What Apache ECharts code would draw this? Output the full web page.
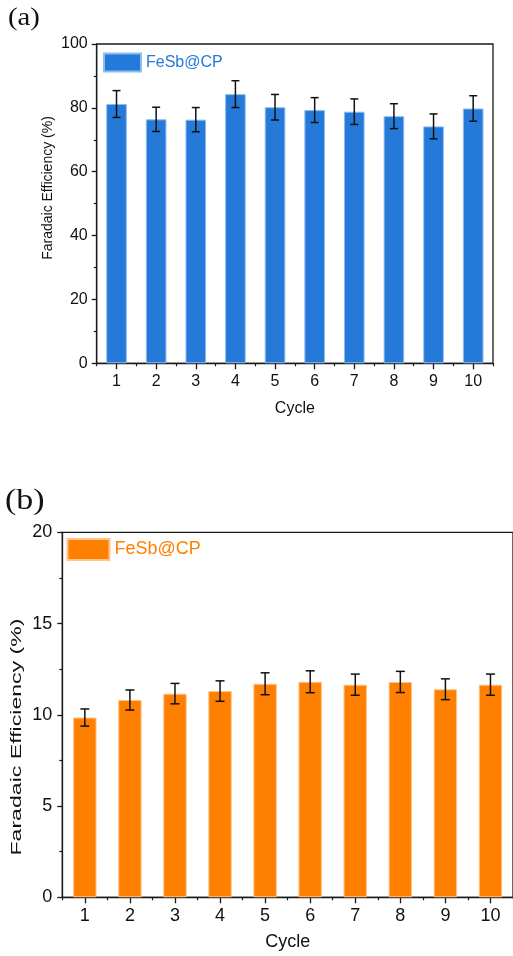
<!DOCTYPE html>
<html>
<head>
<meta charset="utf-8">
<script src="https://cdn.jsdelivr.net/npm/echarts@6/dist/echarts.min.js"></script>
<style>
html,body{margin:0;padding:0;background:#fff;}
#chart{width:513px;height:956px;}
</style>
</head>
<body>
<div id="chart"></div>
<script>
const cycles = ['1','2','3','4','5','6','7','8','9','10'];
const feA = [81.2, 76.4, 76.3, 84.3, 80.2, 79.3, 78.8, 77.4, 74.2, 79.8];
const errA = [4.2, 3.8, 3.8, 4.2, 4.0, 3.9, 4.0, 3.9, 3.9, 4.0];
const feB = [9.85, 10.81, 11.16, 11.3, 11.7, 11.81, 11.65, 11.8, 11.4, 11.65];
const errB = [0.47, 0.55, 0.56, 0.56, 0.6, 0.6, 0.58, 0.58, 0.57, 0.58];
const yTicksA = [0, 20, 40, 60, 80, 100];
const yTicksB = [0, 5, 10, 15, 20];
const seriesLabel = 'FeSb@CP';
const yName = 'Faradaic Efficiency (%)';
const xName = 'Cycle';

const FONT = '"Liberation Sans", Arial, sans-serif';
const SERIF = '"Liberation Serif", "Times New Roman", serif';
const BLUE = '#2479d9';
const ORANGE = '#ff8000';
const AX = '#1a1a1a';

function errData(v, e) { return v.map((d, i) => [i, d - e[i], d + e[i]]); }

function errRender(cap) {
  return function (params, api) {
    const x = api.value(0);
    const lo = api.coord([x, api.value(1)]);
    const hi = api.coord([x, api.value(2)]);
    const st = { stroke: '#111', lineWidth: 1.5 };
    return {
      type: 'group',
      children: [
        { type: 'line', shape: { x1: lo[0], y1: lo[1], x2: hi[0], y2: hi[1] }, style: st },
        { type: 'line', shape: { x1: hi[0] - cap, y1: hi[1], x2: hi[0] + cap, y2: hi[1] }, style: st },
        { type: 'line', shape: { x1: lo[0] - cap, y1: lo[1], x2: lo[0] + cap, y2: lo[1] }, style: st }
      ]
    };
  };
}

function yAxisCfg(grid, max, interval, fs, margin) {
  return {
    type: 'value', gridIndex: grid, min: 0, max: max, interval: interval,
    axisLine: { show: true, lineStyle: { color: AX, width: 1.3 } },
    axisTick: { show: true, length: 5, lineStyle: { color: AX, width: 1.3 } },
    minorTick: { show: true, splitNumber: 2, length: 3, lineStyle: { color: AX, width: 1.2 } },
    splitLine: { show: false },
    axisLabel: { color: '#111', fontFamily: FONT, fontSize: fs, margin: margin }
  };
}

function xAxisMain(grid, fs, margin, nfs, ngap) {
  return {
    type: 'category', gridIndex: grid, data: cycles, boundaryGap: true,
    axisLine: { show: true, lineStyle: { color: AX, width: 1.3 } },
    axisTick: { show: true, alignWithLabel: true, length: 6, lineStyle: { color: AX, width: 1.3 } },
    axisLabel: { color: '#111', fontFamily: FONT, fontSize: fs, margin: margin },
    name: xName, nameLocation: 'middle', nameGap: ngap,
    nameTextStyle: { color: '#111', fontFamily: FONT, fontSize: nfs }
  };
}

function xAxisMinor(grid) {
  return {
    type: 'category', gridIndex: grid, data: cycles, boundaryGap: true, position: 'bottom',
    axisLine: { show: false },
    axisTick: { show: true, alignWithLabel: false, length: 3, lineStyle: { color: AX, width: 1.2 } },
    axisLabel: { show: false }
  };
}

const chart = echarts.init(document.getElementById('chart'), null, { renderer: 'canvas' });
chart.setOption({
  animation: false,
  backgroundColor: '#fff',
  grid: [
    { left: 96.7, top: 44, width: 396.3, height: 319.3, show: true, borderColor: AX, borderWidth: 1.3, backgroundColor: 'transparent' },
    { left: 62.3, top: 532.3, width: 453, height: 365, show: true, borderColor: AX, borderWidth: 1.3, backgroundColor: 'transparent' }
  ],
  legend: [
    { data: [seriesLabel + ' (a)'], formatter: () => seriesLabel, left: 103, top: 52.5, itemWidth: 37, itemHeight: 18, itemGap: 5,
      icon: 'rect', textStyle: { color: BLUE, fontFamily: FONT, fontSize: 16 }, padding: 0, selectedMode: false },
    { data: [seriesLabel + ' (b)'], formatter: () => seriesLabel, left: 66.5, top: 538, itemWidth: 42, itemHeight: 21, itemGap: 5,
      icon: 'rect', textStyle: { color: ORANGE, fontFamily: FONT, fontSize: 18 }, padding: 0, selectedMode: false }
  ],
  xAxis: [
    xAxisMain(0, 16, 10, 16, 37),
    xAxisMinor(0),
    xAxisMain(1, 18, 10, 18, 36),
    xAxisMinor(1)
  ],
  yAxis: [
    yAxisCfg(0, yTicksA[yTicksA.length - 1], yTicksA[1] - yTicksA[0], 16, 9),
    yAxisCfg(1, yTicksB[yTicksB.length - 1], yTicksB[1] - yTicksB[0], 18, 10)
  ],
  graphic: [
    { type: 'text', x: 8, y: 6, scaleX: 1.15, style: { text: '(a)', fill: '#111', font: '25px ' + SERIF } },
    { type: 'text', x: 5, y: 487, scaleX: 1.17, style: { text: '(b)', fill: '#111', font: '29px ' + SERIF } },
    { type: 'text', x: 48, y: 188, rotation: Math.PI / 2,
      style: { text: yName, fill: '#111', font: '14px ' + FONT, align: 'center', verticalAlign: 'middle' } },
    { type: 'text', x: 17, y: 737, rotation: Math.PI / 2, scaleX: 1.65, scaleY: 1.0,
      style: { text: yName, fill: '#111', font: '14px ' + FONT, align: 'center', verticalAlign: 'middle' } }
  ],
  series: [
    { name: seriesLabel + ' (a)', type: 'bar', xAxisIndex: 0, yAxisIndex: 0, data: feA, barWidth: '52%',
      itemStyle: { color: BLUE, borderColor: '#8cbcf0', borderWidth: 1 } },
    { type: 'custom', xAxisIndex: 0, yAxisIndex: 0, data: errData(feA, errA), renderItem: errRender(4), z: 5,
      encode: { x: 0, y: [1, 2] } },
    { name: seriesLabel + ' (b)', type: 'bar', xAxisIndex: 2, yAxisIndex: 1, data: feB, barWidth: '52%',
      itemStyle: { color: ORANGE, borderColor: '#ffc48a', borderWidth: 1 } },
    { type: 'custom', xAxisIndex: 2, yAxisIndex: 1, data: errData(feB, errB), renderItem: errRender(4.5), z: 5,
      encode: { x: 0, y: [1, 2] } }
  ]
});
</script>
</body>
</html>
